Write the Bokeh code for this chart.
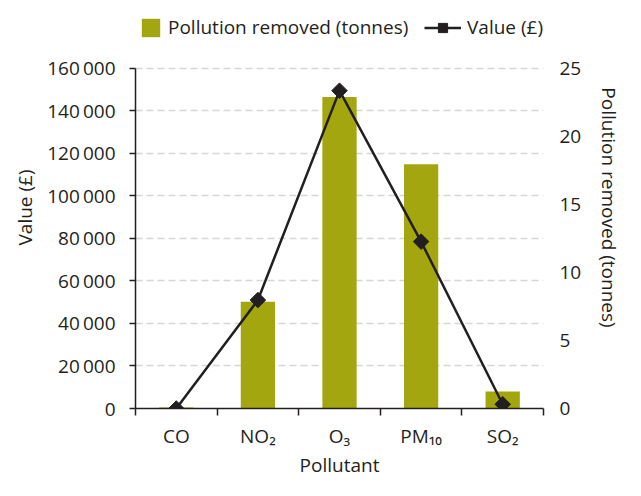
import numpy as np
from bokeh.plotting import figure
from bokeh.models import (Range1d, LinearAxis, FixedTicker, Grid,
                          CustomJSTickFormatter, Legend, LegendItem, ColumnDataSource)
from bokeh.embed import file_html
from bokeh.resources import INLINE

# ---- data ----
pollutants = ["CO", "NO2", "O3", "PM10", "SO2"]
pollutant_labels = ["CO", "NO\u2082", "O\u2083", "PM\u2081\u2080", "SO\u2082"]
removed_tonnes = [0.07, 7.85, 22.9, 17.95, 1.25]
value_gbp = [0, 51000, 149500, 78500, 2000]
left_ticks = [0, 20000, 40000, 60000, 80000, 100000, 120000, 140000, 160000]
right_ticks = [0, 5, 10, 15, 20, 25]
left_max = 160000
right_max = 25

FONT = "Open Sans"
FS = "19px"
TXT = "#231f20"
BAR = "#a3a60f"
LINE = "#231f20"

# layout: the frame reaches up to hold the legend; the data area starts lower
FRAME_PX = 403
DATA_PX = 341
stretch = FRAME_PX / DATA_PX

n = len(pollutants)
centres = [i + 0.5 for i in range(n)]
bounds = [float(i) for i in range(n + 1)]
src = ColumnDataSource(dict(x=centres, name=pollutants, tonnes=removed_tonnes, gbp=value_gbp))

p = figure(width=625, height=480, output_backend="svg", toolbar_location=None,
           x_range=Range1d(0, n), y_range=Range1d(0, left_max * stretch),
           x_axis_type=None, y_axis_type=None,
           min_border_left=135, min_border_right=75, min_border_top=6,
           min_border_bottom=60)
p.outline_line_color = None
p.background_fill_color = "white"
p.border_fill_color = "white"

p.extra_y_ranges = {"t": Range1d(0, right_max * stretch)}

# bars (right axis)
bars = p.vbar(x="x", top="tonnes", width=0.42, y_range_name="t", source=src,
              fill_color=BAR, line_color=None)

# line (left axis)
ln = p.line(x="x", y="gbp", source=src, line_color=LINE, line_width=2.5)
mk = p.scatter(x="x", y="gbp", source=src, marker="square", angle=np.pi / 4,
               size=11, fill_color=LINE, line_color=LINE)

fmt = CustomJSTickFormatter(code="""
    const s = Math.round(tick).toString();
    if (tick < 10000) return s;
    return s.replace(/\\B(?=(\\d{3})+(?!\\d))/g, "\\u2009");
""")

def style_text(ax):
    ax.major_label_text_font = FONT
    ax.major_label_text_font_size = FS
    ax.major_label_text_color = TXT
    ax.axis_label_text_font = FONT
    ax.axis_label_text_font_size = FS
    ax.axis_label_text_font_style = "normal"
    ax.axis_label_text_color = TXT

# left axis
ly = LinearAxis(ticker=FixedTicker(ticks=left_ticks), formatter=fmt,
                axis_label="Value (\u00a3)", bounds=(0, left_max))
ly.axis_line_color = TXT
ly.axis_line_width = 1.5
ly.major_tick_line_color = TXT
ly.major_tick_line_width = 1.5
ly.major_tick_out = 6
ly.major_tick_in = 0
ly.minor_tick_line_color = None
ly.major_label_standoff = 14
ly.axis_label_standoff = 6
style_text(ly)
p.add_layout(ly, "left")

# right axis
ry = LinearAxis(y_range_name="t", ticker=FixedTicker(ticks=right_ticks),
                axis_label="Pollution removed (tonnes)", bounds=(0, right_max))
ry.axis_line_color = None
ry.major_tick_line_color = None
ry.minor_tick_line_color = None
ry.major_tick_out = 0
ry.major_tick_in = 0
ry.major_label_standoff = 16
ry.axis_label_standoff = 12
style_text(ry)
p.add_layout(ry, "right")

# bottom axis: labels at category centres, ticks at category boundaries
xa = LinearAxis(ticker=FixedTicker(ticks=centres, minor_ticks=bounds),
                axis_label="Pollutant")
xa.major_label_overrides = {c: lab for c, lab in zip(centres, pollutant_labels)}
xa.axis_line_color = TXT
xa.axis_line_width = 1.5
xa.major_tick_line_color = None
xa.major_tick_out = 0
xa.major_tick_in = 0
xa.minor_tick_line_color = TXT
xa.minor_tick_line_width = 1.5
xa.minor_tick_out = 7
xa.minor_tick_in = 0
xa.major_label_standoff = 7
xa.axis_label_standoff = 0
style_text(xa)
p.add_layout(xa, "below")

# grid from left axis ticks
g = Grid(dimension=1, ticker=FixedTicker(ticks=left_ticks), grid_line_color="#d6d6d6",
         grid_line_width=1.5, grid_line_dash="7 4")
p.add_layout(g)

# legends (inside the top strip of the frame)
common = dict(orientation="horizontal", padding=0, margin=0, spacing=0,
              border_line_color=None, background_fill_alpha=0,
              label_text_font=FONT, label_text_font_size=FS,
              label_text_color=TXT, label_standoff=6, glyph_height=23)
leg1 = Legend(items=[LegendItem(label="Pollution removed (tonnes)", renderers=[bars])],
              location=(4, 368), glyph_width=23, **common)
leg2 = Legend(items=[LegendItem(label="Value (\u00a3)", renderers=[ln, mk])],
              location=(289, 368), glyph_width=37, **common)
p.add_layout(leg1)
p.add_layout(leg2)

open("out.html", "w").write(file_html(p, INLINE))
